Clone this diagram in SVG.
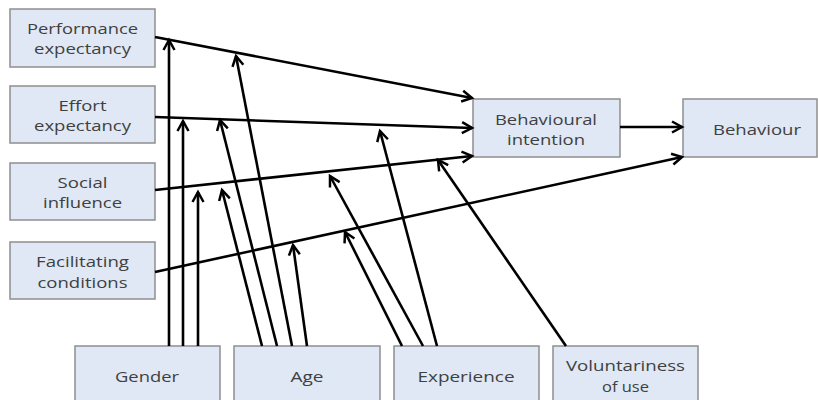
<svg xmlns="http://www.w3.org/2000/svg" width="818" height="400" viewBox="0 0 818 400">
<defs>
<marker id="arr" markerUnits="userSpaceOnUse" markerWidth="16" markerHeight="16" refX="12" refY="7" orient="auto">
<path d="M2,1.5 L12,7 L2,12.5" fill="none" stroke="#000" stroke-width="2.5"/>
</marker>
<style>
.box{fill:#dfe8f4;stroke:#8f8f8f;stroke-width:1.5}
.t{font-family:"Open Sans","Liberation Sans",sans-serif;font-size:15px;fill:#404040;text-anchor:middle}
.c{fill:none;stroke:#000;stroke-width:2.6;marker-end:url(#arr)}
</style>
</defs>
<rect width="818" height="400" fill="#fff"/>
<g id="performance"><rect class="box" x="10" y="9" width="145" height="58"/><text class="t" x="82.5" y="34" textLength="111" lengthAdjust="spacingAndGlyphs">Performance</text><text class="t" x="82.5" y="54" textLength="97" lengthAdjust="spacingAndGlyphs">expectancy</text></g>
<g id="effort"><rect class="box" x="10" y="86" width="145" height="57"/><text class="t" x="82.5" y="111" textLength="48" lengthAdjust="spacingAndGlyphs">Effort</text><text class="t" x="82.5" y="131" textLength="97" lengthAdjust="spacingAndGlyphs">expectancy</text></g>
<g id="social"><rect class="box" x="10" y="163" width="145" height="57"/><text class="t" x="82.5" y="188" textLength="50" lengthAdjust="spacingAndGlyphs">Social</text><text class="t" x="82.5" y="208" textLength="79" lengthAdjust="spacingAndGlyphs">influence</text></g>
<g id="facilitating"><rect class="box" x="10" y="242" width="145" height="57"/><text class="t" x="82.5" y="267" textLength="93" lengthAdjust="spacingAndGlyphs">Facilitating</text><text class="t" x="82.5" y="288" textLength="90" lengthAdjust="spacingAndGlyphs">conditions</text></g>
<g id="intention"><rect class="box" x="473" y="99" width="147" height="58"/><text class="t" x="546" y="125" textLength="102" lengthAdjust="spacingAndGlyphs">Behavioural</text><text class="t" x="546" y="145" textLength="78" lengthAdjust="spacingAndGlyphs">intention</text></g>
<g id="behaviour"><rect class="box" x="683" y="99" width="134" height="58"/><text class="t" x="757" y="135" textLength="88" lengthAdjust="spacingAndGlyphs">Behaviour</text></g>
<g id="gender"><rect class="box" x="75" y="346" width="145" height="60"/><text class="t" x="147" y="382" textLength="64" lengthAdjust="spacingAndGlyphs">Gender</text></g>
<g id="age"><rect class="box" x="234" y="346" width="146" height="60"/><text class="t" x="307" y="382" textLength="33" lengthAdjust="spacingAndGlyphs">Age</text></g>
<g id="experience"><rect class="box" x="394" y="346" width="145" height="60"/><text class="t" x="466" y="382" textLength="97" lengthAdjust="spacingAndGlyphs">Experience</text></g>
<g id="voluntariness"><rect class="box" x="553" y="346" width="145" height="60"/><text class="t" x="625.5" y="371" textLength="119" lengthAdjust="spacingAndGlyphs">Voluntariness</text><text class="t" x="625.5" y="392" textLength="47" lengthAdjust="spacingAndGlyphs">of use</text></g>
<g id="connectors">
<line class="c" x1="155" y1="37" x2="472" y2="98"/>
<line class="c" x1="155" y1="117" x2="472" y2="128"/>
<line class="c" x1="155" y1="190" x2="472" y2="156"/>
<line class="c" x1="155" y1="272" x2="682" y2="157"/>
<line class="c" x1="620" y1="127" x2="682" y2="127"/>
<line class="c" x1="169" y1="346" x2="169" y2="40"/>
<line class="c" x1="183" y1="346" x2="183" y2="121"/>
<line class="c" x1="198" y1="346" x2="198" y2="192"/>
<line class="c" x1="262" y1="346" x2="222" y2="190"/>
<line class="c" x1="277" y1="346" x2="220" y2="120"/>
<line class="c" x1="292" y1="346" x2="236" y2="56"/>
<line class="c" x1="307" y1="346" x2="293" y2="245"/>
<line class="c" x1="402" y1="346" x2="345" y2="232"/>
<line class="c" x1="423" y1="346" x2="330" y2="176"/>
<line class="c" x1="437" y1="346" x2="380" y2="131"/>
<line class="c" x1="566" y1="346" x2="438" y2="160"/>
</g>
</svg>
